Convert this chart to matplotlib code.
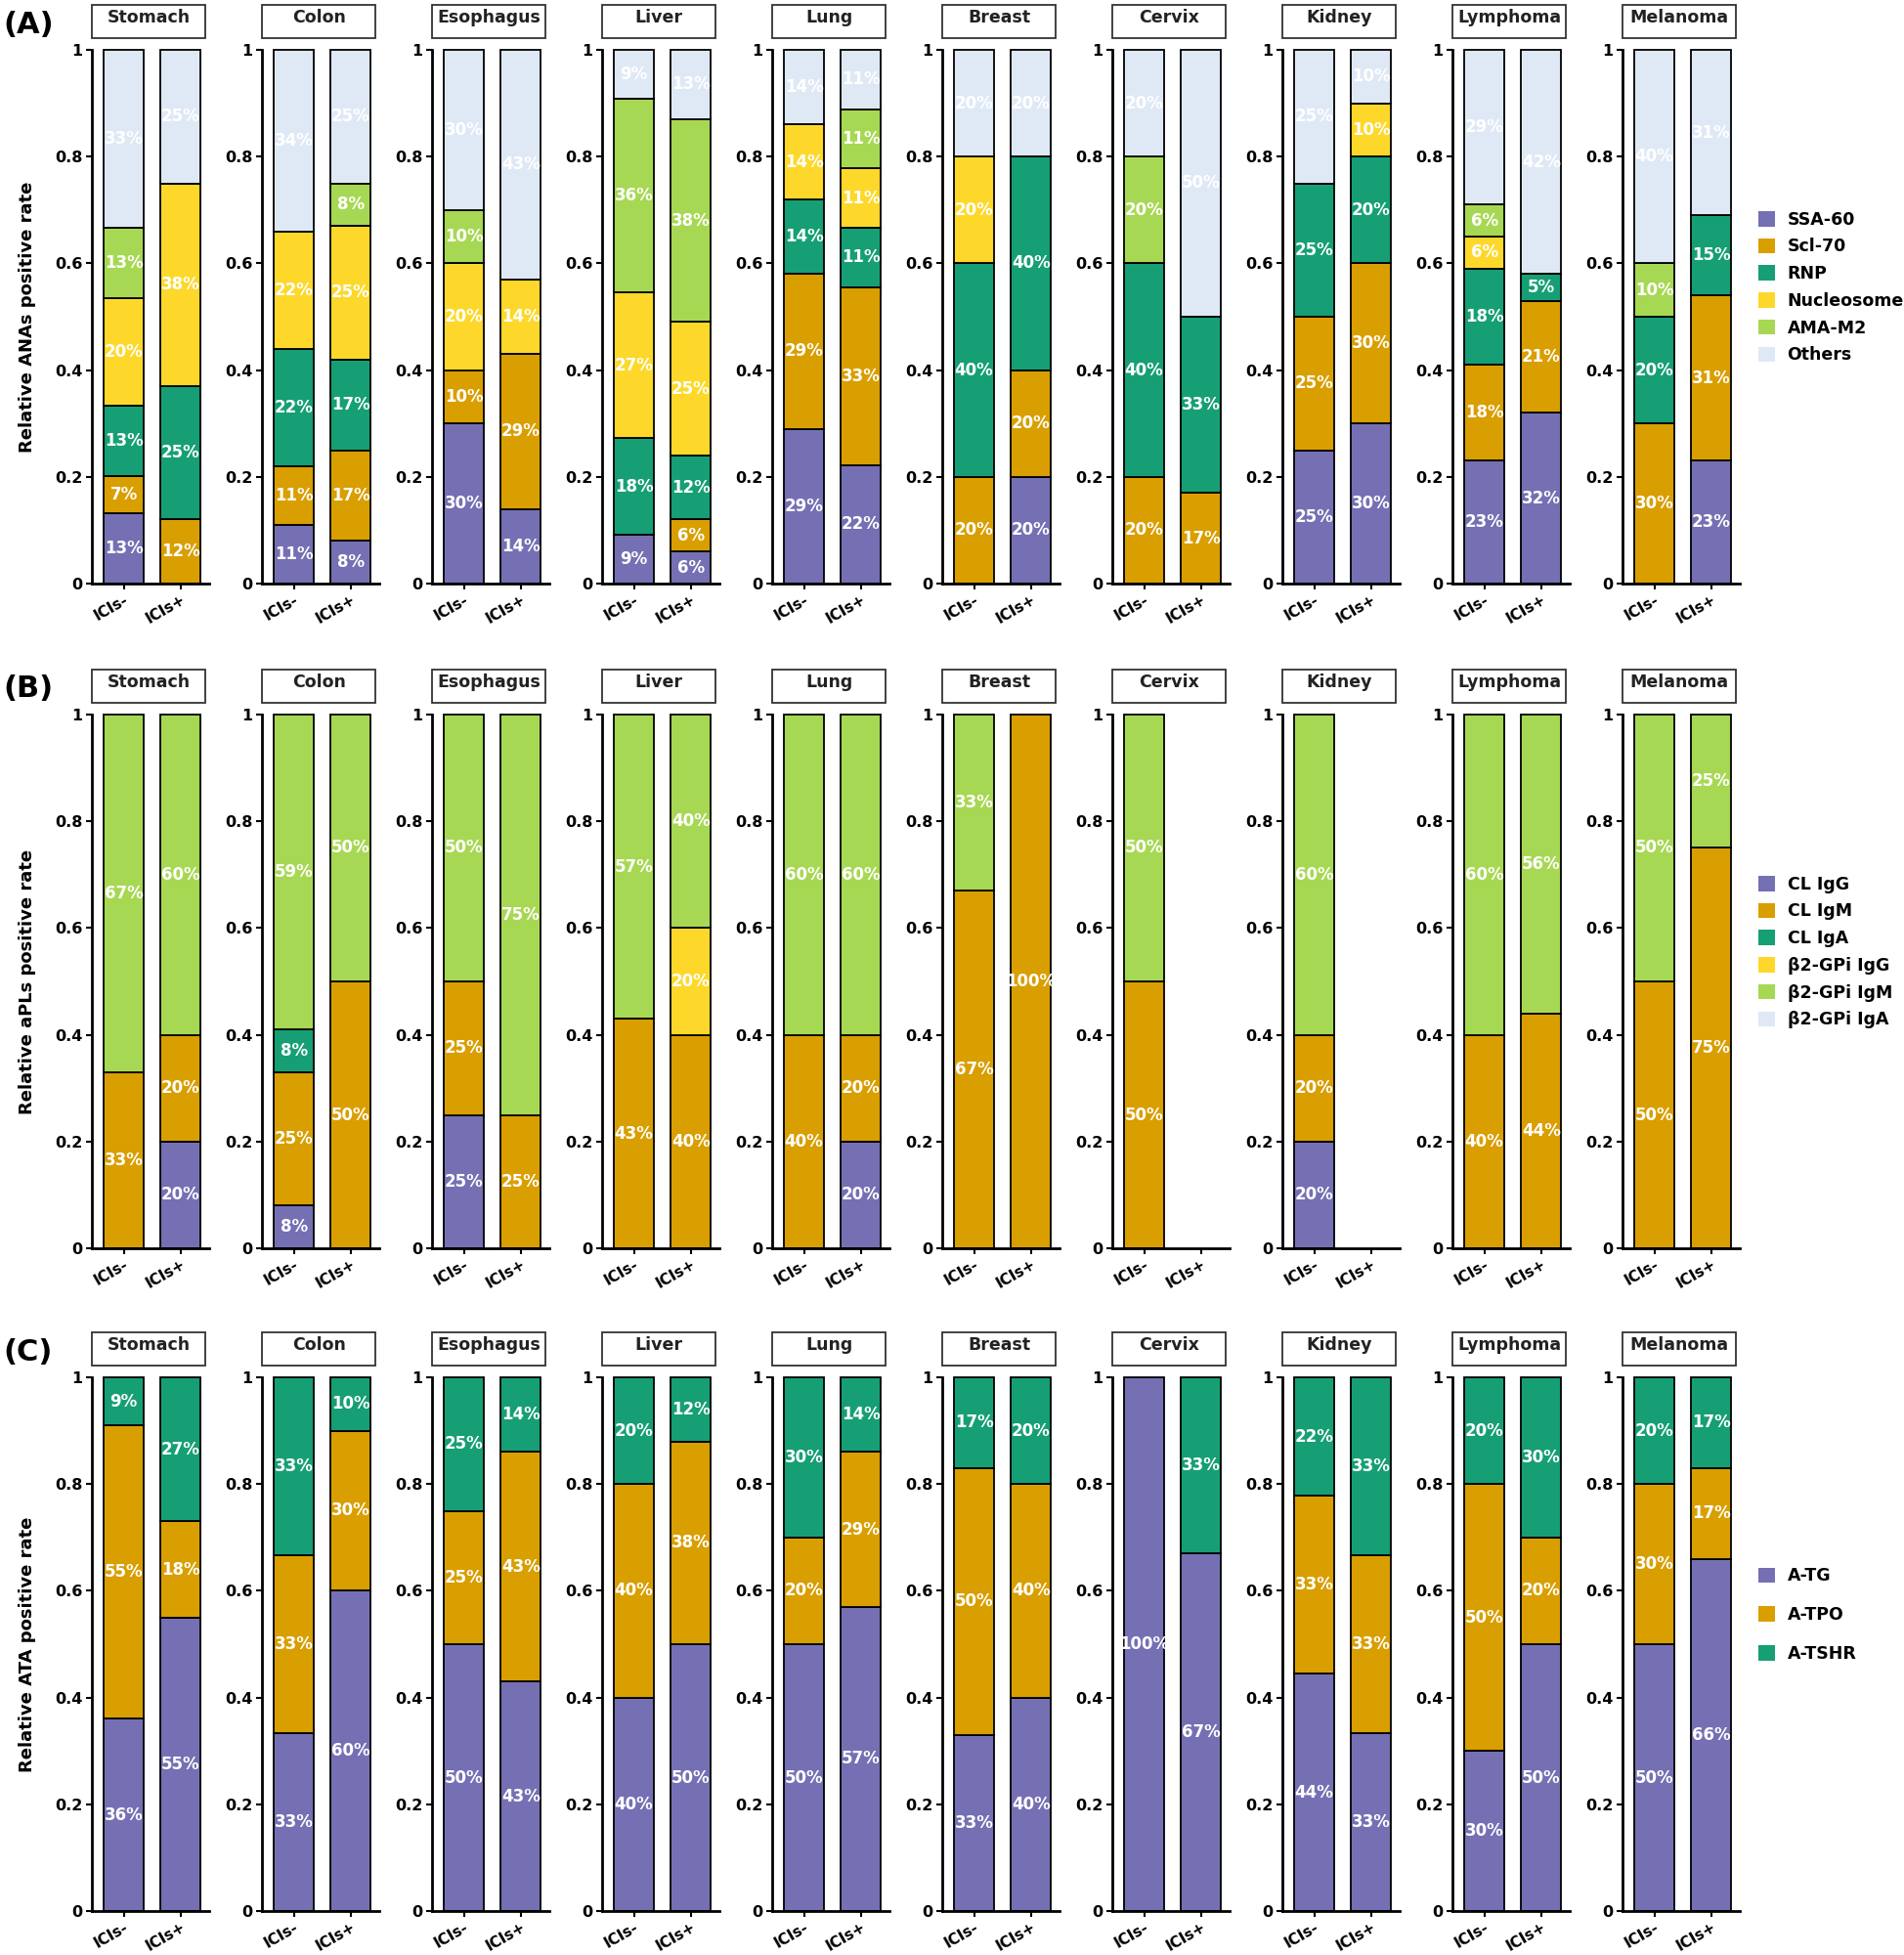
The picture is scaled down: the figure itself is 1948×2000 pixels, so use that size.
import matplotlib.pyplot as plt
from matplotlib.patches import Patch, Rectangle

organs = ['Stomach', 'Colon', 'Esophagus', 'Liver', 'Lung',
          'Breast', 'Cervix', 'Kidney', 'Lymphoma', 'Melanoma']
groups = ['ICIs-', 'ICIs+']

# (A) ANAs: columns follow ana_cats
ana_cats = ['SSA-60', 'Scl-70', 'RNP', 'Nucleosome', 'AMA-M2', 'Others']
ana_neg = [
    [13, 7, 13, 20, 13, 33],
    [11, 11, 22, 22, 0, 34],
    [30, 10, 0, 20, 10, 30],
    [9, 0, 18, 27, 36, 9],
    [29, 29, 14, 14, 0, 14],
    [0, 20, 40, 20, 0, 20],
    [0, 20, 40, 0, 20, 20],
    [25, 25, 25, 0, 0, 25],
    [23, 18, 18, 6, 6, 29],
    [0, 30, 20, 0, 10, 40],
]
ana_pos = [
    [0, 12, 25, 38, 0, 25],
    [8, 17, 17, 25, 8, 25],
    [14, 29, 0, 14, 0, 43],
    [6, 6, 12, 25, 38, 13],
    [22, 33, 11, 11, 11, 11],
    [20, 20, 40, 0, 0, 20],
    [0, 17, 33, 0, 0, 50],
    [30, 30, 20, 10, 0, 10],
    [32, 21, 5, 0, 0, 42],
    [23, 31, 15, 0, 0, 31],
]

# (B) aPLs
apl_cats = ['CL IgG', 'CL IgM', 'CL IgA', 'β2-GPi IgG', 'β2-GPi IgM', 'β2-GPi IgA']
apl_neg = [
    [0, 33, 0, 0, 67, 0],
    [8, 25, 8, 0, 59, 0],
    [25, 25, 0, 0, 50, 0],
    [0, 43, 0, 0, 57, 0],
    [0, 40, 0, 0, 60, 0],
    [0, 67, 0, 0, 33, 0],
    [0, 50, 0, 0, 50, 0],
    [20, 20, 0, 0, 60, 0],
    [0, 40, 0, 0, 60, 0],
    [0, 50, 0, 0, 50, 0],
]
apl_pos = [
    [20, 20, 0, 0, 60, 0],
    [0, 50, 0, 0, 50, 0],
    [0, 25, 0, 0, 75, 0],
    [0, 40, 0, 20, 40, 0],
    [20, 20, 0, 0, 60, 0],
    [0, 100, 0, 0, 0, 0],
    [0, 0, 0, 0, 0, 0],
    [0, 0, 0, 0, 0, 0],
    [0, 44, 0, 0, 56, 0],
    [0, 75, 0, 0, 25, 0],
]

# (C) ATA
ata_cats = ['A-TG', 'A-TPO', 'A-TSHR']
ata_neg = [
    [36, 55, 9],
    [33, 33, 33],
    [50, 25, 25],
    [40, 40, 20],
    [50, 20, 30],
    [33, 50, 17],
    [100, 0, 0],
    [44, 33, 22],
    [30, 50, 20],
    [50, 30, 20],
]
ata_pos = [
    [55, 18, 27],
    [60, 30, 10],
    [43, 43, 14],
    [50, 38, 12],
    [57, 29, 14],
    [40, 40, 20],
    [67, 0, 33],
    [33, 33, 33],
    [50, 20, 30],
    [66, 17, 17],
]

colors = ['#7570b3', '#d99e00', '#169f74', '#fdd82b', '#a7d853', '#dfe9f6']

W, H = 1949, 2000
fig = plt.figure(figsize=(W / 100, H / 100), dpi=100)
plt.rcParams['font.family'] = 'DejaVu Sans'

panels = [
    ('(A)', 'Relative ANAs positive rate', ana_cats, ana_neg, ana_pos, 597, 0.853, 0.56),
    ('(B)', 'Relative aPLs positive rate', apl_cats, apl_neg, apl_pos, 1277, 0.513, 0.56),
    ('(C)', 'Relative ATA positive rate', ata_cats, ata_neg, ata_pos, 1955, 0.174, 1.25),
]

ax_w = 120 / W
ax_h = 546 / H
step = 174 / W
left0 = 94 / W

for letter, ylab, cats, neg, pos, ybot, leg_y, leg_sp in panels:
    bottom = 1 - ybot / H
    for i, organ in enumerate(organs):
        ax = fig.add_axes([left0 + i * step, bottom, ax_w, ax_h])
        for j, row in enumerate([neg[i], pos[i]]):
            total = sum(row)
            if total == 0:
                continue
            base = 0
            for k, v in enumerate(row):
                if v == 0:
                    continue
                h = v / total
                ax.bar(j, h, bottom=base, width=0.7, color=colors[k],
                       edgecolor='black', linewidth=1.3, clip_on=False)
                ax.text(j, base + h / 2, f'{v}%', color='white', fontsize=12,
                        fontweight='bold', ha='center', va='center')
                base += h
        ax.set_xlim(-0.56, 1.5)
        ax.set_ylim(0, 1)
        ax.set_yticks([0, 0.2, 0.4, 0.6, 0.8, 1])
        ax.set_yticklabels(['0', '0.2', '0.4', '0.6', '0.8', '1'],
                           fontsize=11.5, fontweight='bold')
        ax.set_xticks([0, 1])
        ax.set_xticklabels(groups, fontsize=11, fontweight='bold',
                           rotation=30, ha='right', rotation_mode='anchor')
        ax.tick_params(axis='both', length=4, width=1.5, pad=3)
        ax.tick_params(axis='x', pad=2)
        for s in ['top', 'right']:
            ax.spines[s].set_visible(False)
        for s in ['left', 'bottom']:
            ax.spines[s].set_linewidth(2)
        ax.add_patch(Rectangle((0.0, 1.022), 0.97, 0.062, transform=ax.transAxes,
                               fill=False, edgecolor='#333333', linewidth=1.3,
                               clip_on=False))
        ax.text(0.485, 1.077, organ, transform=ax.transAxes, ha='center',
                va='top', fontsize=12.5, fontweight='bold', color='#222222')

    fig.text(28 / W, bottom + ax_h / 2, ylab, rotation=90, ha='center',
             va='center', fontsize=13, fontweight='bold')
    fig.text(0.0015, bottom + ax_h + 0.013, letter, ha='left', va='center',
             fontsize=22, fontweight='bold')

    handles = [Patch(facecolor=colors[k], edgecolor='none') for k in range(len(cats))]
    fig.legend(handles, cats, loc='center left', bbox_to_anchor=(1799 / W, leg_y),
               frameon=False, borderpad=0, borderaxespad=0, handlelength=1.0,
               handleheight=1.0, handletextpad=0.7, labelspacing=leg_sp,
               prop={'weight': 'bold', 'size': 12.5})

fig.savefig('out.png', dpi=100)
